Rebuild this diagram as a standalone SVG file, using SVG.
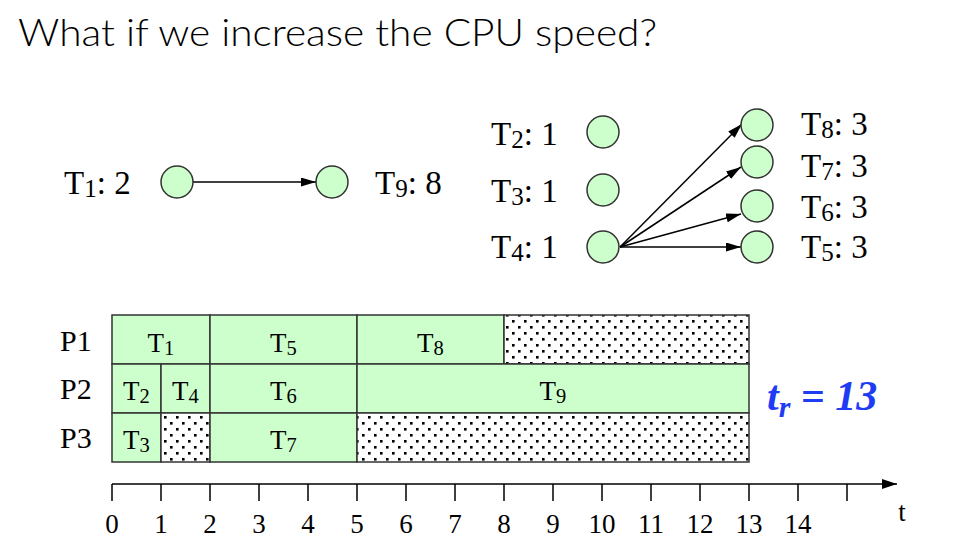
<svg xmlns="http://www.w3.org/2000/svg" width="956" height="552" viewBox="0 0 956 552">
  <defs>
    <style>
      .title { font-family: Lato, "Open Sans", sans-serif; font-size: 37px; font-weight: 300; fill: #000; }
      .lbl { font-family: "Liberation Serif", "Times New Roman", serif; font-size: 33px; fill: #000; }
      .cell { font-family: "Liberation Serif", "Times New Roman", serif; font-size: 27px; fill: #000; text-anchor: middle; }
      .proc { font-family: "Liberation Serif", "Times New Roman", serif; font-size: 30px; fill: #000; }
      .tick { font-family: "Liberation Serif", "Times New Roman", serif; font-size: 27px; fill: #000; text-anchor: middle; }
      .sub { font-size: 76%; }
      .node { fill: #ccffcc; stroke: #333; stroke-width: 1.5; }
      .edge { stroke: #000; stroke-width: 1.5; fill: none; marker-end: url(#arrow); }
      .busy { fill: #ccffcc; stroke: #333; stroke-width: 1.5; }
      .idle { fill: url(#dots); stroke: #333; stroke-width: 1.5; }
      .axis { stroke: #000; stroke-width: 1.5; fill: none; }
      .result { font-family: "Liberation Serif", "Times New Roman", serif; font-size: 42px; font-weight: bold; font-style: italic; fill: #1f3cf5; }
    </style>
    <marker id="arrow" markerUnits="userSpaceOnUse" markerWidth="16" markerHeight="10" refX="15" refY="4.5" orient="auto">
      <path d="M0,0 L15,4.5 L0,9 z" fill="#000"/>
    </marker>
    <marker id="axisArrow" markerUnits="userSpaceOnUse" markerWidth="16" markerHeight="12" refX="15" refY="5" orient="auto">
      <path d="M0,0 L15,5 L0,10 z" fill="#000"/>
    </marker>
    <pattern id="dots" patternUnits="userSpaceOnUse" width="12" height="12">
      <rect width="12" height="12" fill="#fff"/>
      <rect x="2" y="2" width="2.6" height="2.6" fill="#000"/>
      <rect x="8" y="8" width="2.6" height="2.6" fill="#000"/>
    </pattern>
  </defs>

  <rect width="956" height="552" fill="#fff"/>

  <text class="title" x="18" y="46" textLength="639" lengthAdjust="spacingAndGlyphs">What if we increase the CPU speed?</text>

  <!-- task graph: edges -->
  <g id="connectors">
    <line class="edge" x1="193" y1="182" x2="316" y2="182"/>
    <line class="edge" x1="620" y1="247" x2="742" y2="124"/>
    <line class="edge" x1="620" y1="247" x2="741" y2="167"/>
    <line class="edge" x1="620" y1="247" x2="741" y2="214"/>
    <line class="edge" x1="620" y1="247" x2="741" y2="247"/>
  </g>

  <!-- task graph: nodes with their durations -->
  <g id="T1">
    <circle class="node" cx="177" cy="182" r="16"/>
    <text class="lbl" x="64" y="194">T<tspan class="sub" dy="3">1</tspan><tspan dy="-3">: 2</tspan></text>
  </g>
  <g id="T9">
    <circle class="node" cx="332" cy="182" r="16"/>
    <text class="lbl" x="375" y="194">T<tspan class="sub" dy="3">9</tspan><tspan dy="-3">: 8</tspan></text>
  </g>
  <g id="T2">
    <circle class="node" cx="603" cy="132" r="16"/>
    <text class="lbl" x="491" y="145">T<tspan class="sub" dy="3">2</tspan><tspan dy="-3">: 1</tspan></text>
  </g>
  <g id="T3">
    <circle class="node" cx="603" cy="190" r="16"/>
    <text class="lbl" x="491" y="202">T<tspan class="sub" dy="3">3</tspan><tspan dy="-3">: 1</tspan></text>
  </g>
  <g id="T4">
    <circle class="node" cx="603" cy="247" r="16"/>
    <text class="lbl" x="491" y="258">T<tspan class="sub" dy="3">4</tspan><tspan dy="-3">: 1</tspan></text>
  </g>
  <g id="T8">
    <circle class="node" cx="757" cy="125" r="16"/>
    <text class="lbl" x="801" y="135">T<tspan class="sub" dy="3">8</tspan><tspan dy="-3">: 3</tspan></text>
  </g>
  <g id="T7">
    <circle class="node" cx="757" cy="162" r="16"/>
    <text class="lbl" x="801" y="177">T<tspan class="sub" dy="3">7</tspan><tspan dy="-3">: 3</tspan></text>
  </g>
  <g id="T6">
    <circle class="node" cx="757" cy="206" r="16"/>
    <text class="lbl" x="801" y="218">T<tspan class="sub" dy="3">6</tspan><tspan dy="-3">: 3</tspan></text>
  </g>
  <g id="T5">
    <circle class="node" cx="757" cy="247" r="16"/>
    <text class="lbl" x="801" y="258">T<tspan class="sub" dy="3">5</tspan><tspan dy="-3">: 3</tspan></text>
  </g>

  <!-- Gantt chart: 49 px per time unit, origin at x=112 -->
  <g id="gantt">
    <text class="proc" x="60" y="351">P1</text>
    <text class="proc" x="60" y="399">P2</text>
    <text class="proc" x="60" y="448">P3</text>

    <!-- P1 -->
    <rect class="busy" x="112" y="315" width="98" height="49"/>
    <rect class="busy" x="210" y="315" width="147" height="49"/>
    <rect class="busy" x="357" y="315" width="147" height="49"/>
    <rect class="idle" x="504" y="315" width="245" height="49"/>
    <!-- P2 -->
    <rect class="busy" x="112" y="364" width="49" height="49"/>
    <rect class="busy" x="161" y="364" width="49" height="49"/>
    <rect class="busy" x="210" y="364" width="147" height="49"/>
    <rect class="busy" x="357" y="364" width="392" height="49"/>
    <!-- P3 -->
    <rect class="busy" x="112" y="413" width="49" height="49"/>
    <rect class="idle" x="161" y="413" width="49" height="49"/>
    <rect class="busy" x="210" y="413" width="147" height="49"/>
    <rect class="idle" x="357" y="413" width="392" height="49"/>

    <text class="cell" x="161" y="352">T<tspan class="sub" dy="3">1</tspan></text>
    <text class="cell" x="283.5" y="352">T<tspan class="sub" dy="3">5</tspan></text>
    <text class="cell" x="430.5" y="352">T<tspan class="sub" dy="3">8</tspan></text>
    <text class="cell" x="136.5" y="400">T<tspan class="sub" dy="3">2</tspan></text>
    <text class="cell" x="185.5" y="400">T<tspan class="sub" dy="3">4</tspan></text>
    <text class="cell" x="283.5" y="400">T<tspan class="sub" dy="3">6</tspan></text>
    <text class="cell" x="553" y="400">T<tspan class="sub" dy="3">9</tspan></text>
    <text class="cell" x="136.5" y="449">T<tspan class="sub" dy="3">3</tspan></text>
    <text class="cell" x="283.5" y="449">T<tspan class="sub" dy="3">7</tspan></text>
  </g>

  <text class="result" x="767" y="410">t<tspan font-size="30" dy="7">r</tspan><tspan dy="-7"> = 13</tspan></text>

  <!-- time axis -->
  <g id="axis">
    <line class="axis" x1="112" y1="484" x2="897" y2="484" marker-end="url(#axisArrow)"/>
    <path class="axis" d="M112,484v17 M161,484v17 M210,484v17 M259,484v17 M308,484v17 M357,484v17 M406,484v17 M455,484v17 M504,484v17 M553,484v17 M602,484v17 M651,484v17 M700,484v17 M749,484v17 M798,484v17 M847,484v17"/>
    <text class="tick" x="112" y="533">0</text>
    <text class="tick" x="161" y="533">1</text>
    <text class="tick" x="210" y="533">2</text>
    <text class="tick" x="259" y="533">3</text>
    <text class="tick" x="308" y="533">4</text>
    <text class="tick" x="357" y="533">5</text>
    <text class="tick" x="406" y="533">6</text>
    <text class="tick" x="455" y="533">7</text>
    <text class="tick" x="504" y="533">8</text>
    <text class="tick" x="553" y="533">9</text>
    <text class="tick" x="602" y="533">10</text>
    <text class="tick" x="651" y="533">11</text>
    <text class="tick" x="700" y="533">12</text>
    <text class="tick" x="749" y="533">13</text>
    <text class="tick" x="798" y="533">14</text>
    <text class="tick" x="902" y="521" font-size="32">t</text>
  </g>
</svg>
